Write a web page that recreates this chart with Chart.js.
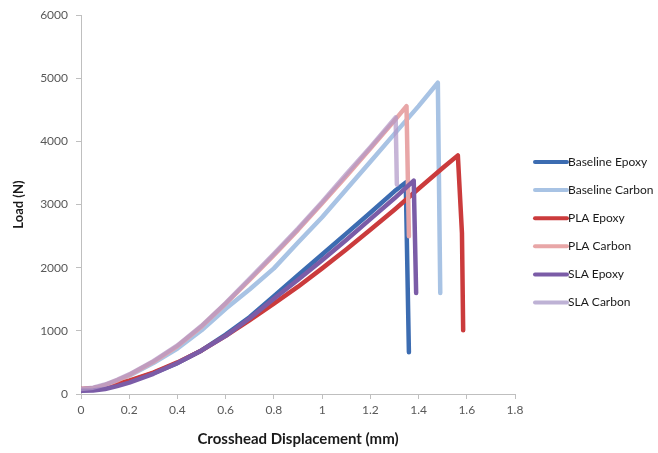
<!DOCTYPE html>
<html>
<head>
<meta charset="utf-8">
<script src="https://cdn.jsdelivr.net/npm/chart.js@4/dist/chart.umd.min.js"></script>
<style>
html,body{margin:0;padding:0;background:#fff;}
#wrap{width:658px;height:453px;position:relative;}
</style>
</head>
<body>
<div id="wrap"><canvas id="c" width="658" height="453"></canvas></div>
<script>
// Series names
const seriesNames = ["Baseline Epoxy", "Baseline Carbon", "PLA Epoxy", "PLA Carbon", "SLA Epoxy", "SLA Carbon"];

// Displacement (mm) and load (N) for each series
const baselineEpoxyX = [0, 0.05, 0.1, 0.15, 0.2, 0.3, 0.4, 0.5, 0.6, 0.7, 0.8, 0.9, 1.0, 1.1, 1.2, 1.3, 1.347, 1.36];
const baselineEpoxyY = [60, 70, 100, 145, 200, 330, 490, 690, 940, 1220, 1550, 1880, 2210, 2540, 2870, 3210, 3350, 660];

const baselineCarbonX = [0, 0.05, 0.1, 0.15, 0.2, 0.3, 0.4, 0.5, 0.6, 0.7, 0.8, 0.9, 1.0, 1.1, 1.2, 1.3, 1.4, 1.48, 1.49];
const baselineCarbonY = [60, 90, 140, 210, 290, 490, 720, 1010, 1350, 1660, 1990, 2400, 2800, 3240, 3680, 4120, 4560, 4930, 1600];

const plaEpoxyX = [0, 0.05, 0.1, 0.15, 0.2, 0.3, 0.4, 0.5, 0.6, 0.7, 0.8, 0.9, 1.0, 1.1, 1.2, 1.3, 1.4, 1.5, 1.563, 1.58, 1.585];
const plaEpoxyY = [80, 90, 120, 160, 210, 340, 500, 690, 920, 1170, 1430, 1700, 1990, 2290, 2600, 2920, 3250, 3580, 3780, 2550, 1010];

const plaCarbonX = [0, 0.05, 0.1, 0.15, 0.2, 0.3, 0.4, 0.5, 0.6, 0.7, 0.8, 0.9, 1.0, 1.1, 1.2, 1.3, 1.35, 1.36];
const plaCarbonY = [70, 90, 140, 215, 300, 510, 760, 1070, 1430, 1810, 2200, 2600, 3020, 3450, 3890, 4330, 4560, 2500];

const slaEpoxyX = [0, 0.05, 0.1, 0.15, 0.2, 0.3, 0.4, 0.5, 0.6, 0.7, 0.8, 0.9, 1.0, 1.1, 1.2, 1.3, 1.38, 1.39];
const slaEpoxyY = [50, 55, 80, 125, 180, 320, 490, 690, 920, 1200, 1510, 1810, 2120, 2440, 2770, 3100, 3380, 1600];

const slaCarbonX = [0, 0.05, 0.1, 0.15, 0.2, 0.3, 0.4, 0.5, 0.6, 0.7, 0.8, 0.9, 1.0, 1.1, 1.2, 1.305, 1.31];
const slaCarbonY = [80, 100, 150, 225, 310, 520, 770, 1080, 1440, 1830, 2220, 2620, 3040, 3480, 3910, 4380, 3320];

// Axis ticks
const xTicks = [0, 0.2, 0.4, 0.6, 0.8, 1, 1.2, 1.4, 1.6, 1.8];
const yTicks = [0, 1000, 2000, 3000, 4000, 5000, 6000];

const seriesColors = ["#3C6CB1", "#A8C3E4", "#CB3B3C", "#E8A6A7", "#7B5CA7", "rgba(178,152,200,0.72)"];
const legendColors = ["#3C6CB1", "#A8C3E4", "#CB3B3C", "#E8A6A7", "#7B5CA7", "#BEB2D5"];

function pts(xs, ys) { return xs.map((x, i) => ({x: x, y: ys[i]})); }
const seriesData = [
  pts(baselineEpoxyX, baselineEpoxyY),
  pts(baselineCarbonX, baselineCarbonY),
  pts(plaEpoxyX, plaEpoxyY),
  pts(plaCarbonX, plaCarbonY),
  pts(slaEpoxyX, slaEpoxyY),
  pts(slaCarbonX, slaCarbonY)
];

const FONT = "Lato, 'Open Sans', sans-serif";

const legendPlugin = {
  id: 'customLegend',
  afterDraw(chart) {
    const ctx = chart.ctx;
    const x0 = 535, x1 = 567, yStart = 162, step = 28.1;
    ctx.save();
    ctx.font = "12px " + FONT;
    ctx.textBaseline = 'middle';
    ctx.textAlign = 'left';
    chart.data.datasets.forEach((ds, i) => {
      const y = yStart + i * step;
      ctx.strokeStyle = legendColors[i];
      ctx.lineWidth = 4;
      ctx.lineCap = 'round';
      ctx.beginPath();
      ctx.moveTo(x0, y);
      ctx.lineTo(x1, y);
      ctx.stroke();
      ctx.fillStyle = '#1a1a1a';
      ctx.fillText(ds.label, x1 + 1, y);
    });
    ctx.restore();
  }
};

new Chart(document.getElementById('c'), {
  type: 'scatter',
  data: {
    datasets: seriesNames.map((name, i) => ({
      label: name,
      data: seriesData[i],
      order: seriesNames.length - 1 - i,
      showLine: true,
      borderColor: seriesColors[i],
      backgroundColor: seriesColors[i],
      borderWidth: 4.5,
      pointRadius: 0,
      pointHoverRadius: 0,
      tension: 0,
      borderJoinStyle: 'round',
      borderCapStyle: 'round'
    }))
  },
  options: {
    responsive: false,
    animation: false,
    devicePixelRatio: 1,
    layout: { padding: { top: 15, right: 143, left: 0, bottom: 0 } },
    plugins: { legend: { display: false }, tooltip: { enabled: false } },
    scales: {
      x: {
        type: 'linear',
        min: 0, max: 1.8,
        afterFit(s) { s.height = 59; },
        afterBuildTicks(s) { s.ticks = xTicks.map(v => ({value: v})); },
        ticks: { color: '#595959', font: { family: FONT, size: 12 }, padding: 4, callback: v => String(v) },
        grid: { display: true, drawOnChartArea: false, drawTicks: true, tickLength: 5, color: '#BFBFBF' },
        border: { display: true, color: '#BFBFBF', width: 1 },
        title: { display: true, text: 'Crosshead Displacement (mm)', color: '#1a1a1a', font: { family: FONT, size: 15, weight: 'bold' }, padding: { top: 5, bottom: 5 } }
      },
      y: {
        type: 'linear',
        min: 0, max: 6000,
        afterFit(s) { s.width = 81; },
        afterBuildTicks(s) { s.ticks = yTicks.map(v => ({value: v})); },
        ticks: { color: '#595959', font: { family: FONT, size: 12 }, padding: 8, callback: v => String(v) },
        grid: { display: true, drawOnChartArea: false, drawTicks: true, tickLength: 5, color: '#BFBFBF' },
        border: { display: true, color: '#BFBFBF', width: 1 },
        title: { display: true, text: 'Load (N)', color: '#1a1a1a', font: { family: FONT, size: 13, weight: 'bold' }, padding: { top: 11, bottom: 11 } }
      }
    }
  },
  plugins: [legendPlugin]
});
</script>
</body>
</html>
